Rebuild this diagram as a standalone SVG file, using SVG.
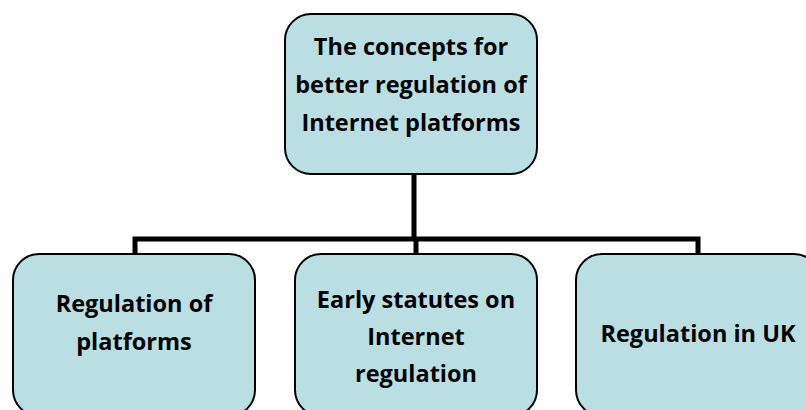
<svg xmlns="http://www.w3.org/2000/svg" width="806" height="410" viewBox="0 0 806 410">
<style>
.box{fill:#b9dfe2;stroke:#000;stroke-width:2}
.t{font-family:"Open Sans","Liberation Sans",sans-serif;font-weight:bold;font-size:23.5px;fill:#000;text-anchor:middle}
.c{fill:none;stroke:#000;stroke-width:5}
</style>
<rect width="806" height="410" fill="#fff"/>
<g id="connectors">
<path class="c" d="M414 174V239M135 254V239H698V254M416 239V254"/>
</g>
<g id="root">
<rect class="box" x="285" y="14" width="252" height="160" rx="26"/>
<text class="t" x="411" y="55">The concepts for</text>
<text class="t" x="411" y="93">better regulation of</text>
<text class="t" x="411" y="131">Internet platforms</text>
</g>
<g id="n1">
<rect class="box" x="13" y="254" width="242" height="162" rx="26"/>
<text class="t" x="134" y="312">Regulation of</text>
<text class="t" x="134" y="350">platforms</text>
</g>
<g id="n2">
<rect class="box" x="295" y="254" width="242" height="162" rx="26"/>
<text class="t" x="416" y="308">Early statutes on</text>
<text class="t" x="416" y="345">Internet</text>
<text class="t" x="416" y="382">regulation</text>
</g>
<g id="n3">
<rect class="box" x="576" y="254" width="244" height="162" rx="26"/>
<text class="t" x="698" y="342">Regulation in UK</text>
</g>
</svg>
